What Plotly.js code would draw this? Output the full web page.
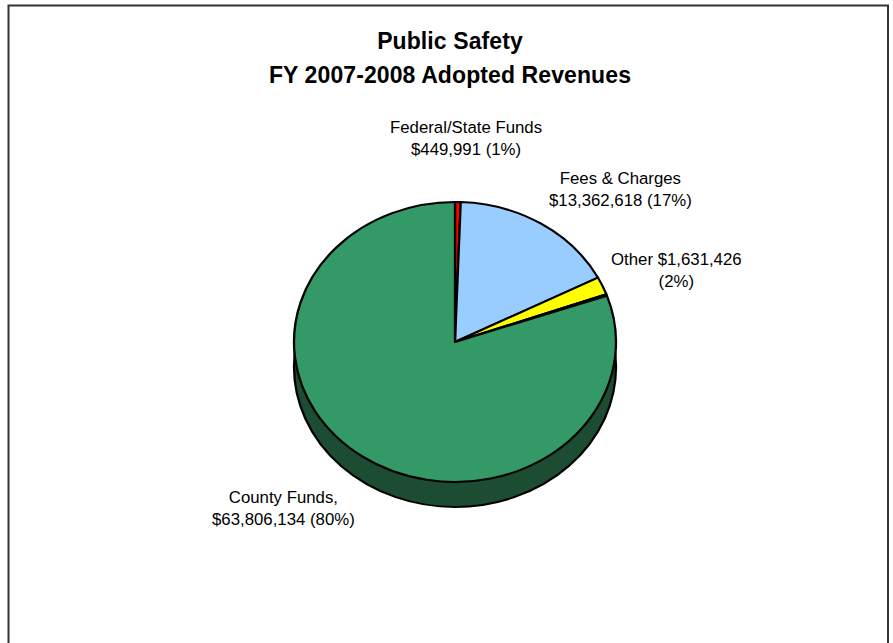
<!DOCTYPE html>
<html>
<head>
<meta charset="utf-8">
<script src="https://cdn.plot.ly/plotly-3.0.1.min.js"></script>
<style>html,body{margin:0;padding:0;background:#fff;overflow:hidden}#chart{width:893px;height:643px}
.gtitle{letter-spacing:0.1px}</style>
</head>
<body>
<div id="chart"></div>
<script>
const categories = ["Federal/State Funds", "Fees & Charges", "Other", "Unlabeled", "County Funds"];
const values = [449991, 13362618, 1631426, 150000, 63806134];
const colors = ["#ff0000", "#99ccff", "#ffff00", "#339966", "#339966"];
const labelTexts = [
  "Federal/State Funds<br>$449,991 (1%)",
  "Fees & Charges<br>$13,362,618 (17%)",
  "Other $1,631,426<br>(2%)",
  "County Funds,<br>$63,806,134 (80%)"
];
const labelX = [466, 620, 676, 283];
const labelY = [138, 190, 270, 508];
const titleText = "<b>Public Safety</b><br><b>FY 2007-2008 Adopted Revenues</b>";

const W = 893, H = 643, CX = 455, CY = 342, RX = 161, RY = 140, DEPTH = 25;
const FONT = "Liberation Sans, Arial, sans-serif";
const dom = {
  x: [(CX - RY) / W, (CX + RY) / W],
  y: [(H - CY - RY) / H, (H - CY + RY) / H]
};
const total = values.reduce((a, b) => a + b, 0);

const traces = [
  {type: "pie", values: [total], labels: ["Rim"], domain: dom, sort: false, direction: "clockwise",
   textinfo: "none", hoverinfo: "skip", showlegend: false,
   marker: {colors: ["#1c4d33"], line: {color: "#000", width: 2}}},
  {type: "pie", values: values, labels: categories, domain: dom, sort: false, direction: "clockwise",
   rotation: 0, textinfo: "none", hoverinfo: "skip", showlegend: false,
   marker: {colors: colors, line: {color: "#000", width: 2}}}
];

const layout = {
  width: W, height: H, margin: {l: 0, r: 0, t: 0, b: 0},
  paper_bgcolor: "#fff", showlegend: false,
  title: {text: titleText, x: 450 / W, xanchor: "center", y: 1 - 49 / H, yanchor: "middle",
          font: {family: FONT, size: 23, color: "#000"}},
  shapes: [{type: "rect", xref: "paper", yref: "paper",
            x0: 8.5 / W, x1: 888 / W, y0: -0.05, y1: 1 - 5.5 / H,
            line: {color: "#333", width: 2}, fillcolor: "rgba(0,0,0,0)", layer: "below"}],
  annotations: labelTexts.map((t, i) => ({
    text: t, showarrow: false, xref: "paper", yref: "paper",
    x: labelX[i] / W, y: 1 - labelY[i] / H, xanchor: "center", yanchor: "middle", align: "center",
    font: {family: FONT, size: 16.8, color: "#000"}
  }))
};

Plotly.newPlot("chart", traces, layout, {displayModeBar: false, staticPlot: true}).then(() => {
  const groups = document.querySelectorAll("#chart .pielayer .trace");
  const sx = RX / RY;
  groups.forEach((g, i) => {
    const dy = i === 0 ? DEPTH : 0;
    g.setAttribute("transform",
      `translate(${CX},${CY + dy}) scale(${sx},1) translate(${-CX},${-CY})`);
  });
  const t = document.querySelector("#chart .gtitle");
  if (t) {
    const lines = t.querySelectorAll("tspan.line");
    if (lines.length > 1) {
      lines[1].setAttribute("dy", "34");
    }
  }
});
</script>
</body>
</html>
